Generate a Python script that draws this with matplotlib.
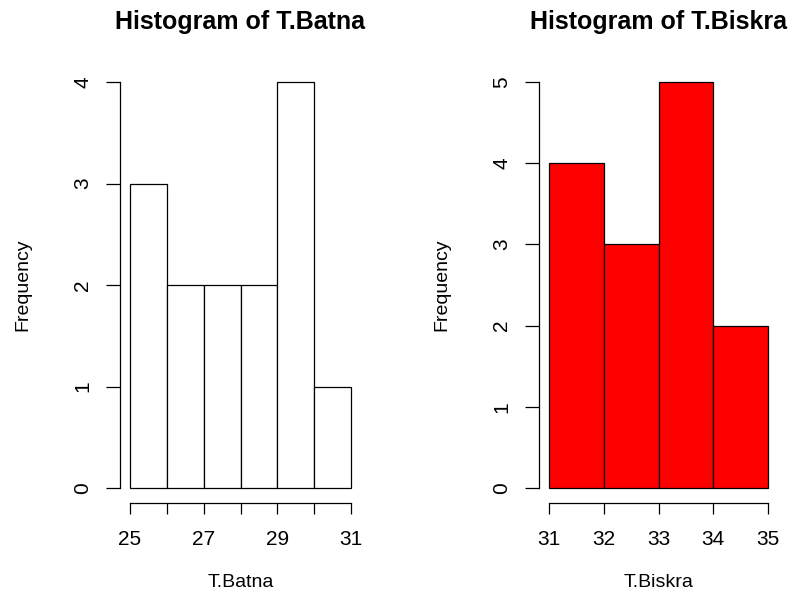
import matplotlib.pyplot as plt

# histogram bins and counts
batna_edges = [25, 26, 27, 28, 29, 30, 31]
batna_counts = [3, 2, 2, 2, 4, 1]
batna_ticks = [25, 26, 27, 28, 29, 30, 31]
batna_ticklabels = ['25', '', '27', '', '29', '', '31']

biskra_edges = [31, 32, 33, 34, 35]
biskra_counts = [4, 3, 5, 2]
biskra_ticks = [31, 32, 33, 34, 35]
biskra_ticklabels = ['31', '32', '33', '34', '35']

plt.rcParams['font.family'] = ['Liberation Sans', 'DejaVu Sans']

W, H = 812, 596
fig = plt.figure(figsize=(W / 100, H / 100), dpi=100)


def r_hist(box, edges, counts, ticks, ticklabels, color, title, xlabel):
    x0, x1, ytop, ybot = box
    ax = fig.add_axes([x0 / W, 1 - ybot / H, (x1 - x0) / W, (ybot - ytop) / H])
    lefts = edges[:-1]
    widths = [b - a for a, b in zip(edges[:-1], edges[1:])]
    bars = ax.bar(lefts, counts, width=widths, align='edge', color=color,
                  edgecolor='black', linewidth=0.9)
    for b in bars:
        b.set_clip_on(False)
    ax.set_xlim(edges[0], edges[-1])
    ax.set_ylim(0, max(counts))
    for s in ['top', 'right']:
        ax.spines[s].set_visible(False)
    ax.spines['left'].set_position(('outward', 7))
    ax.spines['bottom'].set_position(('outward', 11))
    for s in ['left', 'bottom']:
        ax.spines[s].set_linewidth(0.9)
    ax.set_xticks(ticks)
    ax.set_xticklabels(ticklabels)
    ax.set_yticks(range(0, max(counts) + 1))
    ax.tick_params(axis='x', length=8, width=0.9, labelsize=15, pad=11)
    ax.tick_params(axis='y', length=10, width=0.9, labelsize=15, pad=10,
                   labelrotation=90)
    for lab in ax.get_yticklabels():
        lab.set_verticalalignment('center')
    ax.set_title(title, fontsize=18, fontweight='bold', pad=38)
    ax.set_xlabel(xlabel, fontsize=14, labelpad=18)
    ax.set_ylabel('Frequency', fontsize=14, labelpad=30)
    return ax


r_hist((130, 351, 82, 488), batna_edges, batna_counts, batna_ticks,
       batna_ticklabels, 'white', 'Histogram of T.Batna', 'T.Batna')
r_hist((549, 768, 82, 488), biskra_edges, biskra_counts, biskra_ticks,
       biskra_ticklabels, '#ff0000', 'Histogram of T.Biskra', 'T.Biskra')

plt.savefig('out.png', dpi=100)
